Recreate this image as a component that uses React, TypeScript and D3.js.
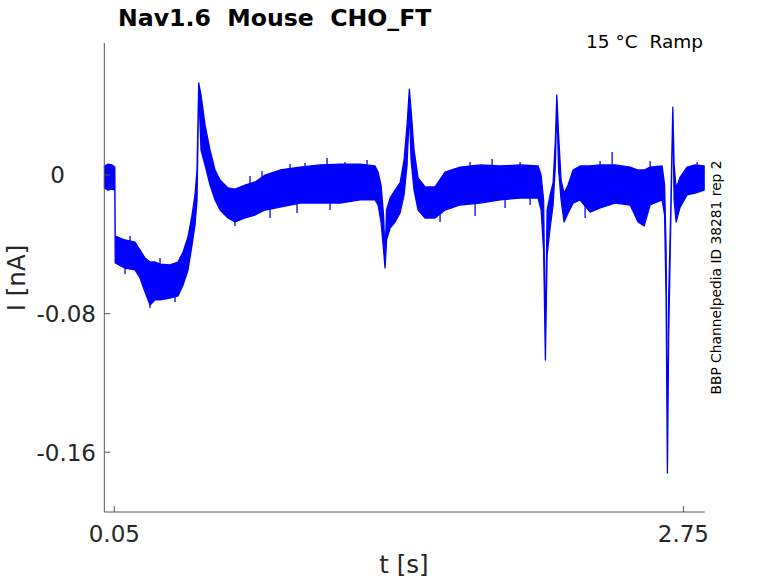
import React from "react";
import * as d3 from "d3";

// ---- data (time in s, current in nA: upper / lower envelope of the noisy trace) ----
const timeS = [
  0.0035, 0.0201, 0.0391, 0.0524, 0.0543, 0.1008, 0.1482, 0.172, 0.1957, 0.2194,
  0.2431, 0.2669, 0.3143, 0.3523, 0.376, 0.3997, 0.4187, 0.4329, 0.4424, 0.4505,
  0.4614, 0.4804, 0.5041, 0.5278, 0.5516, 0.5895, 0.6227, 0.6702, 0.7177, 0.7651,
  0.8363, 0.9312, 1.0261, 1.121, 1.2159, 1.2871, 1.3013, 1.3155, 1.3274, 1.3345,
  1.3416, 1.3583, 1.382, 1.4057, 1.4247, 1.4389, 1.4498, 1.4579, 1.4721, 1.4911,
  1.5243, 1.5718, 1.6192, 1.6904, 1.7853, 1.8802, 1.9751, 2.0606, 2.0748, 2.0867,
  2.0952, 2.1033, 2.1175, 2.1317, 2.1426, 2.1493, 2.1578, 2.1697, 2.1839, 2.2029,
  2.2266, 2.2598, 2.3073, 2.3548, 2.426, 2.4971, 2.5351, 2.5635, 2.592, 2.6489,
  2.6608, 2.6679, 2.6741, 2.6798, 2.6893, 2.6997, 2.7059, 2.7154, 2.7344, 2.7676,
  2.8056, 2.8483,
];
const currentUpper = [
  0.0052, 0.0063, 0.0058, 0.0046, -0.0352, -0.0375, -0.0387, -0.0433, -0.0479, -0.0502,
  -0.0502, -0.0514, -0.0519, -0.0502, -0.0444, -0.0358, -0.0231, -0.0115, 0.0029, 0.0531,
  0.0462, 0.0289, 0.0144, 0.0029, -0.0029, -0.0075, -0.0081, -0.0058, -0.004, 0.0,
  0.0029, 0.0046, 0.0058, 0.0063, 0.0063, 0.0052, 0.0017, -0.0058, -0.0231, -0.0462,
  -0.0202, -0.0133, -0.0087, -0.0046, 0.0087, 0.0289, 0.0496, 0.0375, 0.0144, -0.0017,
  -0.0069, -0.0069, 0.0017, 0.0046, 0.0058, 0.0052, 0.0058, 0.0052, 0.0, -0.0144,
  -0.0981, -0.0202, -0.0115, -0.0046, 0.0202, 0.0462, 0.0231, -0.0029, -0.0104, -0.0058,
  0.0029, 0.0052, 0.0052, 0.0058, 0.0058, 0.0046, 0.0029, 0.0029, 0.0046, 0.0052,
  -0.0058, -0.0433, -0.1673, -0.0721, -0.0231, 0.0392, 0.0058, -0.0075, -0.0012, 0.0046,
  0.0058, 0.0052,
];
const currentLower = [
  -0.0075, -0.0087, -0.0081, -0.0087, -0.0508, -0.0537, -0.0548, -0.0594, -0.0675, -0.075,
  -0.0721, -0.0721, -0.071, -0.0698, -0.0635, -0.0548, -0.0404, -0.0289, -0.0144, 0.049,
  0.0144, 0.0058, -0.0058, -0.0144, -0.0202, -0.0248, -0.0271, -0.0248, -0.0231, -0.0202,
  -0.0185, -0.0162, -0.0162, -0.0162, -0.0144, -0.0144, -0.0173, -0.0271, -0.0433, -0.0537,
  -0.0375, -0.0306, -0.0271, -0.0219, -0.0115, 0.0058, 0.0375, 0.0087, -0.0087, -0.0202,
  -0.0248, -0.0248, -0.0202, -0.0173, -0.0162, -0.0144, -0.0133, -0.0133, -0.0202, -0.0433,
  -0.1068, -0.0462, -0.0306, -0.0173, 0.0058, 0.0421, 0.0029, -0.0144, -0.0271, -0.0219,
  -0.0162, -0.0144, -0.0214, -0.019, -0.0162, -0.0173, -0.0271, -0.0294, -0.0173, -0.0144,
  -0.0231, -0.0721, -0.172, -0.0952, -0.0317, 0.0358, -0.0144, -0.0271, -0.0185, -0.0115,
  -0.0104, -0.0087,
];

// individual noise excursions beyond the band (time, from, to) in s / nA
const spikeTime = [
  0.6939, 0.7509, 0.8837, 0.9549, 1.0593, 1.1447, 1.2491, 1.7379, 1.8423, 1.9751,
  2.4117, 2.3548, 2.592, 2.815, 0.2669, 0.1245, 0.6227, 0.7888, 0.9169, 1.0735,
  1.7616, 2.2836, 0.2194, 0.338, 0.1008, 1.5955, 1.9039, 2.0226,
];
const spikeFrom = [
  -0.0058, -0.0029, 0.0017, 0.0023, 0.0029, 0.0029, 0.0029, 0.0029, 0.0029, 0.0029,
  0.0029, 0.0029, 0.0029, 0.0029, -0.0537, -0.0404, -0.0248, -0.0173, -0.0144, -0.0144,
  -0.0144, -0.0144, -0.071, -0.0687, -0.0519, -0.0214, -0.0133, -0.0121,
];
const spikeTo = [
  -0.0006, 0.0023, 0.0063, 0.0069, 0.0098, 0.0075, 0.0087, 0.0075, 0.0092, 0.0075,
  0.0133, 0.0081, 0.0081, 0.0075, -0.0479, -0.0352, -0.0294, -0.0248, -0.0219, -0.0202,
  -0.0237, -0.0248, -0.0767, -0.0733, -0.0571, -0.0271, -0.019, -0.0173,
];

const xTicks = [0.05, 2.75];
const yTicks = [0, -0.08, -0.16];
const xDomain = [0.0025, 2.851];
const yDomain = [-0.1945, 0.0762];

const titleText = "Nav1.6  Mouse  CHO_FT";
const subText = "15 °C  Ramp";
const sideText = "BBP Channelpedia ID 38281 rep 2";
const xLabel = "t [s]";
const yLabel = "I [nA]";

const W = 778;
const H = 583;
const M = { left: 104.3, right: 704.7, top: 43, bottom: 512 };
const FONT = "DejaVu Sans, sans-serif";
const AXIS = "#555555";
const TXT = "#262626";
const BLUE = "#0000ff";

export default function App() {
  const x = d3.scaleLinear().domain(xDomain).range([M.left, M.right]);
  const y = d3.scaleLinear().domain(yDomain).range([M.bottom, M.top]);

  const pts = timeS.map((t, i) => ({ t, hi: currentUpper[i], lo: currentLower[i] }));
  const area = d3
    .area<{ t: number; hi: number; lo: number }>()
    .x((d) => x(d.t))
    .y0((d) => y(d.lo))
    .y1((d) => y(d.hi));
  const path = area(pts) || "";

  const fmt = (v: number) => (v === 0 ? "0" : d3.format(".2f")(v).replace("\u2212", "-"));
  const tickLen = 6;

  return (
    <svg
      width={W}
      height={H}
      style={{ position: "absolute", left: 0, top: 0, background: "#fff" }}
      fontFamily={FONT}
    >
      <rect x={0} y={0} width={W} height={H} fill="#fff" />
      {/* trace */}
      <path d={path} fill={BLUE} stroke={BLUE} strokeWidth={1.3} strokeLinejoin="round" />
      {spikeTime.map((t, i) => (
        <line
          key={"s" + i}
          x1={x(t)}
          x2={x(t)}
          y1={y(spikeFrom[i])}
          y2={y(spikeTo[i])}
          stroke={BLUE}
          strokeWidth={1.3}
        />
      ))}

      {/* axes */}
      <line x1={M.left} y1={M.top} x2={M.left} y2={M.bottom} stroke={AXIS} strokeWidth={1} />
      <line x1={M.left} y1={M.bottom} x2={M.right} y2={M.bottom} stroke={AXIS} strokeWidth={1} />
      {yTicks.map((v) => (
        <g key={"y" + v}>
          <line x1={M.left} x2={M.left + tickLen} y1={y(v)} y2={y(v)} stroke={AXIS} />
          <text
            x={v === 0 ? 65 : 96}
            y={y(v)}
            dy="0.36em"
            textAnchor="end"
            fontSize={23}
            fill={TXT}
          >
            {fmt(v)}
          </text>
        </g>
      ))}
      {xTicks.map((v) => (
        <g key={"x" + v}>
          <line x1={x(v)} x2={x(v)} y1={M.bottom} y2={M.bottom - tickLen} stroke={AXIS} />
          <text x={x(v)} y={542.3} textAnchor="middle" fontSize={23} fill={TXT}>
            {fmt(v)}
          </text>
        </g>
      ))}

      {/* labels */}
      <text x={404} y={573} textAnchor="middle" fontSize={24.5} fill={TXT} style={{ whiteSpace: "pre" }}>
        {xLabel}
      </text>
      <text
        transform={`translate(25,278) rotate(-90)`}
        textAnchor="middle"
        fontSize={24.5}
        fill={TXT}
        style={{ whiteSpace: "pre" }}
      >
        {yLabel}
      </text>
      <text x={118} y={26} fontSize={23.6} fontWeight="bold" fill="#000" style={{ whiteSpace: "pre" }}>
        {titleText}
      </text>
      <text x={703} y={47.5} textAnchor="end" fontSize={18.5} fill="#000" style={{ whiteSpace: "pre" }}>
        {subText}
      </text>
      <text
        transform={`translate(721,277.5) rotate(-90)`}
        textAnchor="middle"
        fontSize={13.8}
        fill="#000"
      >
        {sideText}
      </text>
    </svg>
  );
}
